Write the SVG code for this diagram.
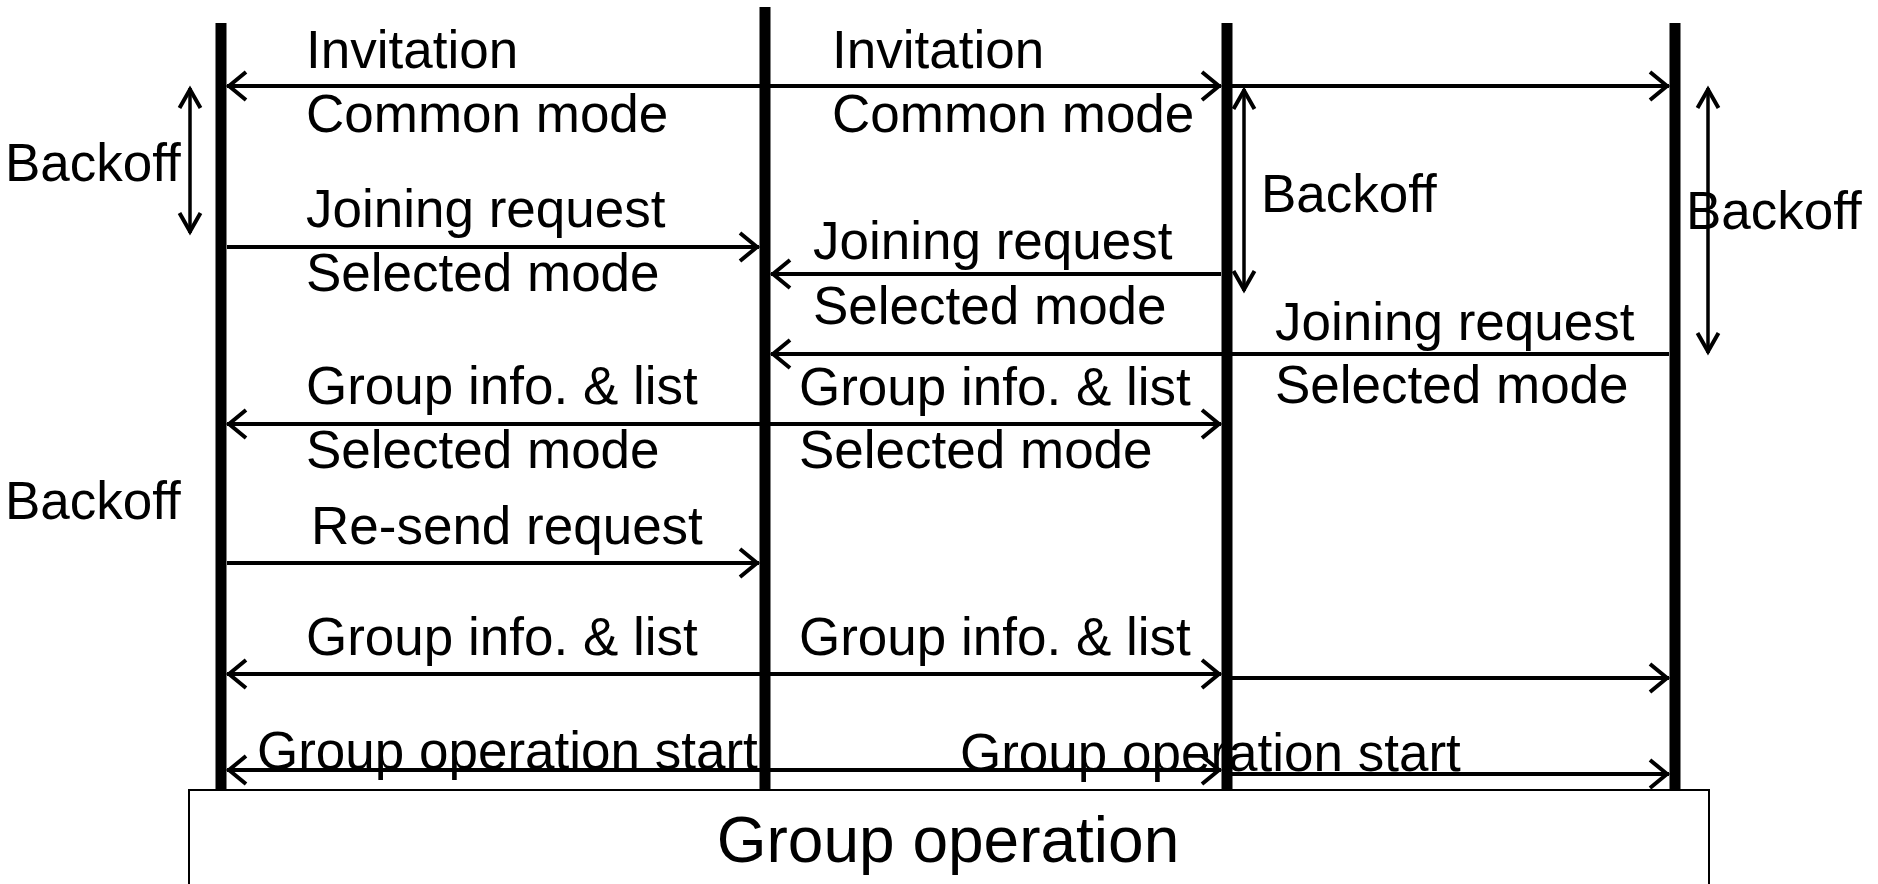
<svg xmlns="http://www.w3.org/2000/svg" width="1878" height="884" viewBox="0 0 1878 884">
<style>
  .lbl { font-family: "Liberation Sans", Arial, sans-serif; font-size: 53px; fill: #000; }
  .big { font-family: "Liberation Sans", Arial, sans-serif; font-size: 64px; fill: #000; }
  .life { stroke: #000; stroke-width: 11; fill: none; }
  .msg { stroke: #000; stroke-width: 4; fill: none; }
  .bo { stroke: #000; stroke-width: 3.5; fill: none; }
</style>
<defs>
  <marker id="ah" markerUnits="userSpaceOnUse" viewBox="-24 -18 28 36" markerWidth="28" markerHeight="36" refX="0" refY="0" orient="auto-start-reverse">
    <path d="M -19 -14 L -2 0 L -19 14" fill="none" stroke="#000" stroke-width="4"/>
  </marker>
  <marker id="bh" markerUnits="userSpaceOnUse" viewBox="-24 -14 28 28" markerWidth="28" markerHeight="28" refX="0" refY="0" orient="auto-start-reverse">
    <path d="M -20 -10.5 L -1.5 0 L -20 10.5" fill="none" stroke="#000" stroke-width="4"/>
  </marker>
</defs>
<rect width="1878" height="884" fill="#fff"/>

<g id="lifeline1"><line class="life" x1="221" y1="23" x2="221" y2="790"/></g>
<g id="lifeline2"><line class="life" x1="765" y1="7" x2="765" y2="790"/></g>
<g id="lifeline3"><line class="life" x1="1227" y1="23" x2="1227" y2="790"/></g>
<g id="lifeline4"><line class="life" x1="1675" y1="23" x2="1675" y2="790"/></g>

<g id="connectors">
  <line class="msg" x1="227" y1="86" x2="1221" y2="86" marker-start="url(#ah)" marker-end="url(#ah)"/>
  <line class="msg" x1="1232" y1="86" x2="1669" y2="86" marker-end="url(#ah)"/>
  <line class="msg" x1="227" y1="247" x2="759" y2="247" marker-end="url(#ah)"/>
  <line class="msg" x1="1221" y1="274" x2="771" y2="274" marker-end="url(#ah)"/>
  <line class="msg" x1="1669" y1="354" x2="771" y2="354" marker-end="url(#ah)"/>
  <line class="msg" x1="227" y1="424" x2="1221" y2="424" marker-start="url(#ah)" marker-end="url(#ah)"/>
  <line class="msg" x1="227" y1="563" x2="759" y2="563" marker-end="url(#ah)"/>
  <line class="msg" x1="227" y1="674" x2="1221" y2="674" marker-start="url(#ah)" marker-end="url(#ah)"/>
  <line class="msg" x1="1232" y1="678" x2="1669" y2="678" marker-end="url(#ah)"/>
  <line class="msg" x1="227" y1="770" x2="1221" y2="770" marker-start="url(#ah)" marker-end="url(#ah)"/>
  <line class="msg" x1="1232" y1="774" x2="1669" y2="774" marker-end="url(#ah)"/>
  <line class="bo" x1="190" y1="88" x2="190" y2="233" marker-start="url(#bh)" marker-end="url(#bh)"/>
  <line class="bo" x1="1244" y1="89" x2="1244" y2="291" marker-start="url(#bh)" marker-end="url(#bh)"/>
  <line class="bo" x1="1708" y1="88" x2="1708" y2="353" marker-start="url(#bh)" marker-end="url(#bh)"/>
</g>

<g id="labels">
  <text class="lbl" x="5" y="181">Backoff</text>
  <text class="lbl" x="306" y="68">Invitation</text>
  <text class="lbl" x="306" y="132">Common mode</text>
  <text class="lbl" x="832" y="68">Invitation</text>
  <text class="lbl" x="832" y="132">Common mode</text>
  <text class="lbl" x="1261" y="212">Backoff</text>
  <text class="lbl" x="1686" y="229">Backoff</text>
  <text class="lbl" x="306" y="227">Joining request</text>
  <text class="lbl" x="306" y="291">Selected mode</text>
  <text class="lbl" x="813" y="259">Joining request</text>
  <text class="lbl" x="813" y="324">Selected mode</text>
  <text class="lbl" x="1275" y="340">Joining request</text>
  <text class="lbl" x="1275" y="403">Selected mode</text>
  <text class="lbl" x="306" y="404">Group info. &amp; list</text>
  <text class="lbl" x="306" y="468">Selected mode</text>
  <text class="lbl" x="799" y="405">Group info. &amp; list</text>
  <text class="lbl" x="799" y="468">Selected mode</text>
  <text class="lbl" x="5" y="519">Backoff</text>
  <text class="lbl" x="311" y="544">Re-send request</text>
  <text class="lbl" x="306" y="655">Group info. &amp; list</text>
  <text class="lbl" x="799" y="655">Group info. &amp; list</text>
  <text class="lbl" x="257" y="769">Group operation start</text>
  <text class="lbl" x="960" y="771">Group operation start</text>
</g>

<g id="group-operation">
  <rect x="189" y="790" width="1520" height="120" fill="#fff" stroke="#000" stroke-width="2"/>
  <text class="big" x="948" y="862" text-anchor="middle">Group operation</text>
</g>
</svg>
